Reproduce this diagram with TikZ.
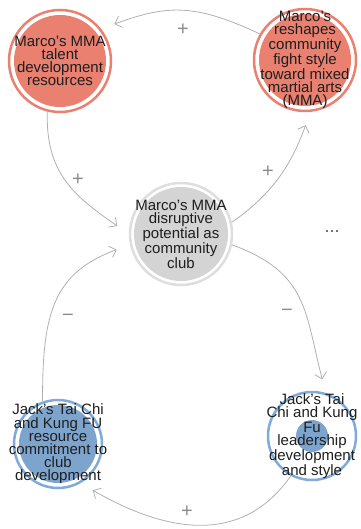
\documentclass[tikz,border=0pt]{standalone}
\usepackage{fontspec}
\setmainfont{Liberation Sans}
\usetikzlibrary{arrows.meta}
\definecolor{loopsalmon}{RGB}{233,128,112}
\definecolor{loopgray}{RGB}{212,212,212}
\definecolor{ringgray}{RGB}{222,222,222}
\definecolor{loopblue}{RGB}{125,164,205}
\definecolor{ringblue}{RGB}{128,170,215}
\definecolor{linkgray}{RGB}{176,176,176}
\definecolor{signgray}{RGB}{140,140,140}
\definecolor{inkblack}{RGB}{30,30,30}
\tikzset{
  factor/.style n args={4}{circle, draw=#1, line width=2.5pt, fill=white,
    minimum size=#4, inner sep=0pt,
    path picture={\fill[#2] (path picture bounding box.center) circle (#3);}},
  factortext/.style={inner sep=0pt, align=center, text=inkblack,
    font=\fontsize{15}{13.2}\selectfont},
  link/.style={draw=linkgray, line width=0.8pt,
    -{Straight Barb[length=6pt, width=12pt]}, shorten >=14pt},
  sign/.style={text=signgray, inner sep=0pt, font=\fontsize{20}{20}\selectfont},
  dots/.style={text=black!65, inner sep=0pt, font=\fontsize{18}{18}\selectfont}
}

\begin{document}
\begin{tikzpicture}[x=1pt, y=1pt]
  \useasboundingbox (0,0) rectangle (360,-529);

  \node[factor={loopsalmon}{loopsalmon}{46pt}{102pt}] (talent) at (60,-61) {};
  \node[factor={loopsalmon}{loopsalmon}{46pt}{102pt}] (reshape) at (305,-60) {};
  \node[factor={ringgray}{loopgray}{47pt}{102pt}] (potential) at (181,-234) {};
  \node[factor={ringblue}{loopblue}{39pt}{88pt}] (resource) at (58,-444) {};
  \node[factor={ringblue}{loopblue}{16pt}{88pt}] (leader) at (312,-436) {};

  \node[factortext] (talenttext) at (talent)
    {Marco's MMA\\talent\\development\\resources};
  \node[factortext] (reshapetext) at (reshape)
    {Marco's\\reshapes\\community\\fight style\\toward mixed\\martial arts\\(MMA)};
  \node[factortext] (potentialtext) at (potential)
    {Marco's MMA\\disruptive\\potential as\\community\\club};
  \node[factortext] (resourcetext) at (resource)
    {Jack's Tai Chi\\and Kung FU\\resource\\commitment to\\club\\development};
  \node[factortext] (leadertext) at (leader)
    {Jack's Tai\\Chi and Kung\\Fu\\leadership\\development\\and style};

  \draw[link] (reshape.150) to[out=155, in=20, looseness=1.15] (talent.38);
  \draw[link] (talent.256) to[out=268, in=145, looseness=1.1] (potential.180);
  \draw[link] (potential.13) to[out=35, in=250] (reshape.276);
  \draw[link] (potential.348) to[out=-20, in=105, looseness=1.2] (leader.72);
  \draw[link] (leader.242) to[out=235, in=330, looseness=1.1] (resource.300);
  \draw[link] (resource.110) to[out=90, in=200, looseness=1.2] (potential.192);

  \node[sign] (plusa) at (183,-30) {+};
  \node[sign] (plusb) at (78,-180) {+};
  \node[sign] (plusc) at (268,-172) {+};
  \node[sign] (minusa) at (287,-313) {−};
  \node[sign] (plusd) at (187,-512) {+};
  \node[sign] (minusb) at (68,-318) {−};
  \node[dots] (more) at (332,-232) {...};
\end{tikzpicture}
\end{document}
